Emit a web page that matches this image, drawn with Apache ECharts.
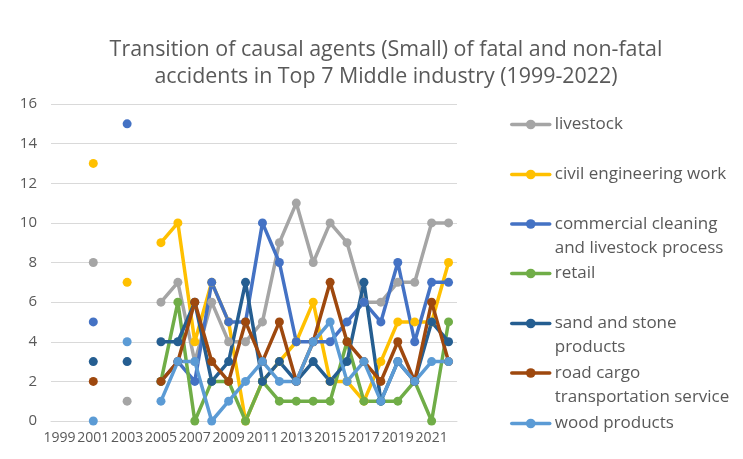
<!DOCTYPE html>
<html>
<head>
<meta charset="utf-8">
<title>Transition of causal agents</title>
<script src="https://cdn.jsdelivr.net/npm/echarts@6/dist/echarts.min.js"></script>
<style>
  html, body { margin: 0; padding: 0; background: #fff; }
  #chart { width: 743px; height: 459px; }
</style>
</head>
<body>
<div id="chart"></div>
<script>
// years on the x axis
const years = ['1999', '2000', '2001', '2002', '2003', '2004', '2005', '2006', '2007', '2008', '2009', '2010',
  '2011', '2012', '2013', '2014', '2015', '2016', '2017', '2018', '2019', '2020', '2021', '2022']

// counts per year (null = no data)
const livestock = [null, null, 8, null, 1, null, 6, 7, 3, 6, 4, 4, 5, 9, 11, 8, 10, 9, 6, 6, 7, 7, 10, 10]
const civilEngineering = [null, null, 13, null, 7, null, 9, 10, 4, 7, 5, 0, 2, 3, 4, 6, 2, 2, 1, 3, 5, 5, 5, 8]
const commercialCleaning = [null, null, 5, null, 15, null, 2, 3, 2, 7, 5, 5, 10, 8, 4, 4, 4, 5, 6, 5, 8, 4, 7, 7]
const retail = [null, null, null, null, null, null, 2, 6, 0, 2, 2, 0, 2, 1, 1, 1, 1, 4, 1, 1, 1, 2, 0, 5]
const sandStone = [null, null, 3, null, 3, null, 4, 4, 6, 2, 3, 7, 2, 3, 2, 3, 2, 3, 7, 1, 3, 2, 5, 4]
const roadCargo = [null, null, 2, null, null, null, 2, 3, 6, 3, 2, 5, 3, 5, 2, 4, 7, 4, 3, 2, 4, 2, 6, 3]
const woodProducts = [null, null, 0, null, 4, null, 1, 3, 3, 0, 1, 2, 3, 2, 2, 4, 5, 2, 3, 1, 3, 2, 3, 3]

const seriesNames = ['livestock', 'civil engineering work', 'commercial cleaning and livestock process', 'retail',
  'sand and stone products', 'road cargo transportation service', 'wood products']
// legend text as it wraps in the original
const legendLabels = ['livestock', 'civil engineering work', 'commercial cleaning\nand livestock process', 'retail',
  'sand and stone\nproducts', 'road cargo\ntransportation service', 'wood products']
const seriesData = [livestock, civilEngineering, commercialCleaning, retail, sandStone, roadCargo, woodProducts]
const colors = ['#A5A5A5', '#FFC000', '#4472C4', '#70AD47', '#255E91', '#9E480E', '#5B9BD5']

const yTicks = { min: 0, max: 16, interval: 2 }

const textColor = '#595959'
const font = '"Open Sans", "Noto Sans", sans-serif'

// one legend per entry so each sits where excel put it.
// wrapped names get an empty first line so the icon lines up with the first text line
const legendCenters = [124.5, 174.5, 224, 273.5, 323.5, 373, 423.5]
const legends = seriesNames.map((name, i) => {
  const twoLines = legendLabels[i].indexOf('\n') >= 0
  return {
    data: [name],
    orient: 'vertical',
    left: 510,
    top: legendCenters[i] - (twoLines ? 36 : 12),
    padding: 0,
    itemWidth: 38,
    itemHeight: 12,
    lineStyle: { width: 3.5 },
    formatter: () => (twoLines ? '\n' : '') + legendLabels[i],
    textStyle: {
      color: textColor,
      fontFamily: font,
      fontSize: 17,
      lineHeight: 24
    }
  }
})

const chart = echarts.init(document.getElementById('chart'))

chart.setOption({
  animation: false,
  color: colors,
  title: {
    text: 'Transition of causal agents (Small) of fatal and non-fatal\naccidents in Top 7 Middle industry (1999-2022)',
    left: 386,
    top: 36,
    padding: 0,
    textAlign: 'center',
    textStyle: {
      color: textColor,
      fontFamily: font,
      fontSize: 21.4,
      fontWeight: 'normal',
      lineHeight: 27
    }
  },
  legend: legends,
  grid: { left: 51, right: 286, top: 104, bottom: 38 },
  xAxis: {
    type: 'category',
    data: years,
    boundaryGap: true,
    axisLine: { lineStyle: { color: '#D9D9D9' } },
    axisTick: { show: false },
    axisLabel: {
      // every other year, like excel does
      interval: 1,
      showMinLabel: true,
      hideOverlap: false,
      color: textColor,
      fontFamily: font,
      fontSize: 14,
      margin: 10
    }
  },
  yAxis: {
    type: 'value',
    min: yTicks.min,
    max: yTicks.max,
    interval: yTicks.interval,
    axisLine: { show: false },
    axisTick: { show: false },
    splitLine: { lineStyle: { color: '#D9D9D9' } },
    axisLabel: {
      color: textColor,
      fontFamily: font,
      fontSize: 15,
      margin: 14
    }
  },
  series: seriesNames.map((name, i) => ({
    name: name,
    type: 'line',
    data: seriesData[i],
    symbol: 'circle',
    symbolSize: 9,
    showAllSymbol: true,
    connectNulls: false,
    lineStyle: { width: 3.5, cap: 'round', join: 'round' },
    itemStyle: { color: colors[i] }
  }))
})
</script>
</body>
</html>
